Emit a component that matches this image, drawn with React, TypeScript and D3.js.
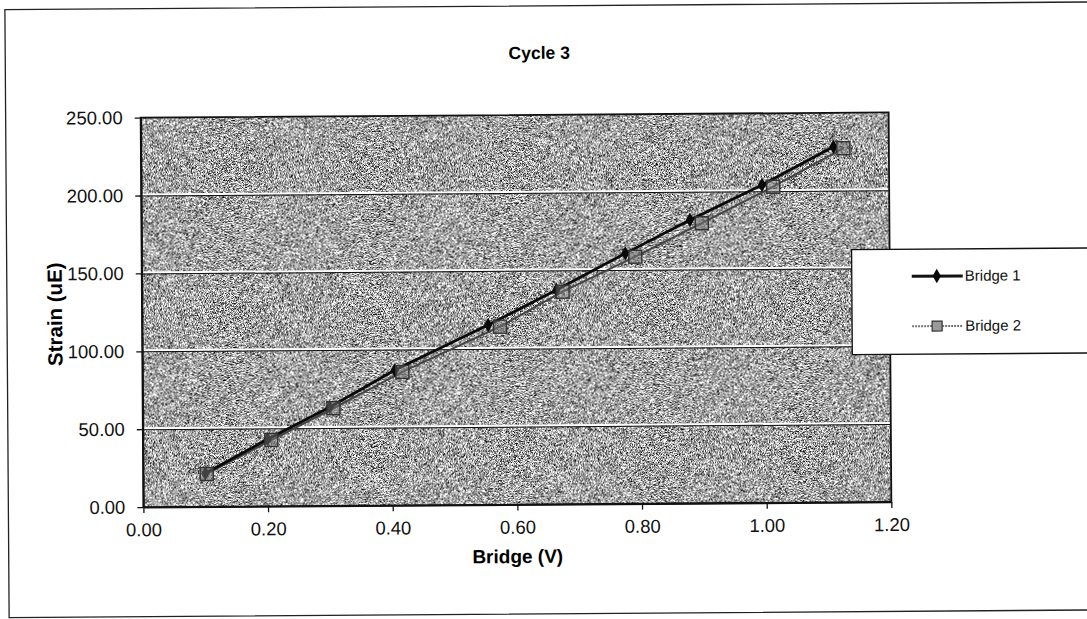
import React, { useRef, useEffect } from "react";
import * as d3 from "d3";

// (Bridge voltage vs. strain)
const bridge1X = [0.1, 0.2, 0.3, 0.405, 0.555, 0.665, 0.776, 0.88, 0.996, 1.111];
const bridge1Y = [21.5, 43.0, 63.2, 86.8, 115.3, 137.5, 160.7, 181.8, 204.0, 228.2];
const bridge2X = [0.102, 0.206, 0.306, 0.417, 0.574, 0.675, 0.792, 0.899, 1.014, 1.127];
const bridge2Y = [21.0, 42.5, 62.6, 85.6, 114.2, 136.4, 158.5, 179.7, 202.8, 227.2];
const seriesNames = ["Bridge 1", "Bridge 2"];
const xTicks = [0, 0.2, 0.4, 0.6, 0.8, 1.0, 1.2];
const yTicks = [0, 50, 100, 150, 200, 250];

const FONT = "'Liberation Sans', Arial, sans-serif";

export default function App() {
  const svgRef = useRef<SVGSVGElement>(null);

  useEffect(() => {
    if (!svgRef.current) return;
    const width = 1087;
    const height = 619;
    const svg = d3.select(svgRef.current);
    svg.selectAll("*").remove();
    svg.attr("width", width).attr("height", height).attr("viewBox", `0 0 ${width} ${height}`);

    svg.append("rect").attr("width", width).attr("height", height).attr("fill", "#fff");

    // speckled scan texture
    const defs = svg.append("defs");
    const f = defs
      .append("filter")
      .attr("id", "speckle")
      .attr("x", 0)
      .attr("y", 0)
      .attr("width", "100%")
      .attr("height", "100%")
      .attr("color-interpolation-filters", "sRGB");
    f.append("feTurbulence")
      .attr("type", "fractalNoise")
      .attr("baseFrequency", 1.4)
      .attr("numOctaves", 2)
      .attr("seed", 7)
      .attr("result", "n");
    f.append("feColorMatrix")
      .attr("in", "n")
      .attr("type", "matrix")
      .attr("values", "2.6 0 0 0 -0.66  2.6 0 0 0 -0.66  2.6 0 0 0 -0.66  0 0 0 0 1");

    // the whole scan is tilted a little
    const root = svg.append("g").attr("transform", "rotate(-0.4, 516, 310)");

    // outer chart frame
    root
      .append("rect")
      .attr("x", 7)
      .attr("y", 6)
      .attr("width", 1100)
      .attr("height", 608)
      .attr("fill", "none")
      .attr("stroke", "#222")
      .attr("stroke-width", 1.3);

    const margin = { left: 142, top: 115, right: 197, bottom: 114.5 };
    const w = width - margin.left - margin.right;
    const h = height - margin.top - margin.bottom;

    const x = d3.scaleLinear().domain([0, 1.2]).range([0, w]);
    const y = d3.scaleLinear().domain([0, 250]).range([h, 0]);

    const g = root.append("g").attr("transform", `translate(${margin.left},${margin.top})`);

    g.append("rect")
      .attr("width", w)
      .attr("height", h)
      .attr("fill", "#a0a0a0")
      .attr("filter", "url(#speckle)");

    // gridlines
    yTicks.slice(1, -1).forEach((t) => {
      g.append("line")
        .attr("x1", 0)
        .attr("x2", w)
        .attr("y1", y(t) - 1)
        .attr("y2", y(t) - 1)
        .attr("stroke", "#fff")
        .attr("stroke-width", 2);
      g.append("line")
        .attr("x1", 0)
        .attr("x2", w)
        .attr("y1", y(t) + 0.5)
        .attr("y2", y(t) + 0.5)
        .attr("stroke", "#111")
        .attr("stroke-width", 1);
    });

    g.append("rect")
      .attr("width", w)
      .attr("height", h)
      .attr("fill", "none")
      .attr("stroke", "#111")
      .attr("stroke-width", 1.8);

    // axes
    const xAxis = g
      .append("g")
      .attr("transform", `translate(0,${h})`)
      .call(d3.axisBottom(x).tickValues(xTicks).tickSize(6).tickSizeOuter(0).tickPadding(10).tickFormat(d3.format(".2f")));
    const yAxis = g
      .append("g")
      .call(d3.axisLeft(y).tickValues(yTicks).tickSize(6).tickSizeOuter(0).tickPadding(12).tickFormat(d3.format(".2f")));
    [xAxis, yAxis].forEach((a) => {
      a.select(".domain").attr("stroke", "#111").attr("stroke-width", 1.8);
      a.selectAll(".tick line").attr("stroke", "#111").attr("stroke-width", 1.3);
      a.selectAll("text").attr("fill", "#111").attr("font-size", "18.5px").attr("font-family", FONT);
    });

    // series
    const line = d3
      .line<[number, number]>()
      .x((d) => x(d[0]))
      .y((d) => y(d[1]));
    const d1 = bridge1X.map((v, i) => [v, bridge1Y[i]] as [number, number]);
    const d2 = bridge2X.map((v, i) => [v, bridge2Y[i]] as [number, number]);

    g.append("path").datum(d2).attr("fill", "none").attr("stroke", "#444").attr("stroke-width", 2).attr("d", line);
    g.append("path").datum(d1).attr("fill", "none").attr("stroke", "#0a0a0a").attr("stroke-width", 2.8).attr("d", line);

    const diamond = d3.symbol().type(d3.symbolDiamond).size(60);
    g.selectAll(".b1")
      .data(d1)
      .enter()
      .append("path")
      .attr("transform", (d) => `translate(${x(d[0])},${y(d[1])})`)
      .attr("d", diamond)
      .attr("fill", "#0a0a0a");

    g.selectAll(".b2")
      .data(d2)
      .enter()
      .append("rect")
      .attr("x", (d) => x(d[0]) - 6.5)
      .attr("y", (d) => y(d[1]) - 6.5)
      .attr("width", 13)
      .attr("height", 13)
      .attr("fill", "#777")
      .attr("fill-opacity", 0.5)
      .attr("stroke", "#333")
      .attr("stroke-width", 1.4);

    // titles
    root
      .append("text")
      .attr("x", 541)
      .attr("y", 59)
      .attr("text-anchor", "middle")
      .attr("font-size", "17.5px")
      .attr("font-weight", "bold")
      .attr("font-family", FONT)
      .text("Cycle 3");
    root
      .append("text")
      .attr("x", 516)
      .attr("y", 563)
      .attr("text-anchor", "middle")
      .attr("font-size", "19px")
      .attr("font-weight", "bold")
      .attr("font-family", FONT)
      .text("Bridge (V)");
    root
      .append("text")
      .attr("transform", "translate(62,311) rotate(-90)")
      .attr("text-anchor", "middle")
      .attr("font-size", "20.5px")
      .attr("font-weight", "bold")
      .attr("font-family", FONT)
      .text("Strain (uE)");

    // legend
    const lg = root.append("g").attr("transform", "translate(852,252)");
    lg.append("rect")
      .attr("width", 260)
      .attr("height", 105)
      .attr("fill", "#fff")
      .attr("stroke", "#111")
      .attr("stroke-width", 1.3);
    seriesNames.forEach((name, i) => {
      const ly = 27 + i * 50;
      if (i === 0) {
        lg.append("line").attr("x1", 60).attr("x2", 111).attr("y1", ly).attr("y2", ly).attr("stroke", "#111").attr("stroke-width", 3);
        lg.append("path").attr("transform", `translate(85,${ly})`).attr("d", diamond).attr("fill", "#0a0a0a");
      } else {
        lg.append("line")
          .attr("x1", 60)
          .attr("x2", 111)
          .attr("y1", ly)
          .attr("y2", ly)
          .attr("stroke", "#777")
          .attr("stroke-width", 2)
          .attr("stroke-dasharray", "2,1");
        lg.append("rect")
          .attr("x", 80)
          .attr("y", ly - 5)
          .attr("width", 10)
          .attr("height", 10)
          .attr("fill", "#999")
          .attr("stroke", "#333")
          .attr("stroke-width", 1.2);
      }
      lg.append("text")
        .attr("x", 113)
        .attr("y", ly + 5)
        .attr("font-size", "15px")
        .attr("font-family", FONT)
        .attr("fill", "#111")
        .text(name);
    });
  }, []);

  return (
    <div>
      <svg ref={svgRef} style={{ position: "absolute", left: 0, top: 0 }} />
    </div>
  );
}
